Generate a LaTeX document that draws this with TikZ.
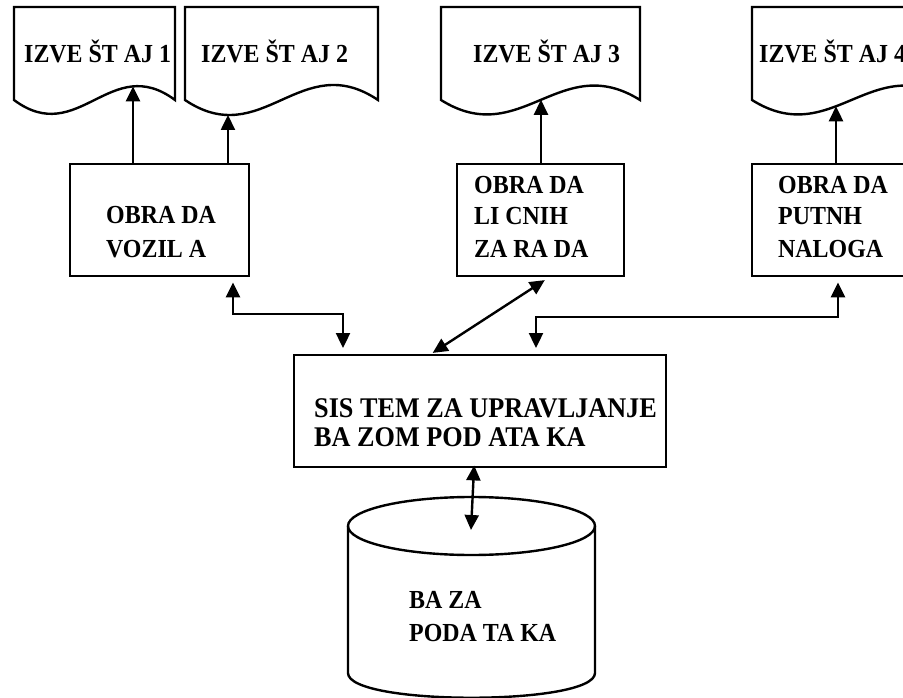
\documentclass[tikz,border=0pt]{standalone}
\usepackage{fontspec}
\setmainfont{Liberation Serif}[FakeStretch=0.92]
\usetikzlibrary{arrows.meta,intersections}
\begin{document}
\begin{tikzpicture}[x=1pt,y=-1pt,line width=2.4pt,
  >={Triangle[length=15pt,width=14pt]},
  lbl/.style={font=\bfseries\fontsize{26}{33}\selectfont, anchor=base west, align=left, inner sep=0pt},
  clbl/.style={font=\bfseries\fontsize{28.5}{29}\selectfont, anchor=base west, align=left, inner sep=0pt},
  box/.style={draw, anchor=north west, inner sep=0pt, minimum height=112pt},
  conn/.style={<->}]
\useasboundingbox (0,0) rectangle (903,698);
\clip (0,0) rectangle (903,698);
% documents
\draw[name path=d1] (14,7) -- (175,7) -- (175,100) .. controls (110.6,52) and (78.4,148) .. (14,100) -- cycle;
\draw[name path=d2] (185,7) -- (378,7) -- (378,100) .. controls (300.8,48) and (262.2,152) .. (185,100) -- cycle;
\draw[name path=d3] (441,7) -- (640,7) -- (640,100) .. controls (560.4,50) and (520.6,150) .. (441,100) -- cycle;
\draw[name path=d4] (752,7) -- (951,7) -- (951,100) .. controls (871.4,50) and (831.6,150) .. (752,100) -- cycle;
\node[lbl] (t1) at (23,63) {IZVE ŠT AJ 1};
\node[lbl] (t2) at (200,63) {IZVE ŠT AJ 2};
\node[lbl] (t3) at (472,63) {IZVE ŠT AJ 3};
\node[lbl] (t4) at (758,63) {IZVE ŠT AJ 4};
% process boxes
\node[box, minimum width=179pt] (b1) at (69,163) {};
\node[box, minimum width=167pt] (b2) at (456,163) {};
\node[box, minimum width=200pt] (b3) at (751,163) {};
\node[box, minimum width=372pt] (cb) at (293,354) {};
\node[lbl] (l1) at (105,257) {OBRA DA\\VOZIL A};
\node[lbl, font=\bfseries\fontsize{26}{32}\selectfont] (l2) at (473,257) {OBRA DA\\LI CNIH\\ZA RA DA};
\node[lbl, font=\bfseries\fontsize{26}{32}\selectfont] (l3) at (777,257) {OBRA DA\\PUTNH\\NALOGA};
\node[clbl] (lc) at (313,446) {SIS TEM ZA UPRAVLJANJE\\BA ZOM POD ATA KA};
% database cylinder
\draw (471.5,526) ellipse [x radius=123.5, y radius=29];
\draw (348,526) -- (348,673) .. controls (348,706) and (595,706) .. (595,673) -- (595,526);
\coordinate (dbt) at (471,530);
\node[lbl] (ld) at (408,641) {BA ZA\\PODA TA KA};
% arrows box -> document
\path[name path=v1] (133,70) -- (133,170);
\path[name path=v2] (228,70) -- (228,170);
\path[name path=v3] (541,70) -- (541,170);
\path[name path=v4] (836,70) -- (836,170);
\path[name intersections={of=d1 and v1, by=i1}];
\path[name intersections={of=d2 and v2, by=i2}];
\path[name intersections={of=d3 and v3, by=i3}];
\path[name intersections={of=d4 and v4, by=i4}];
\draw[->] (b1.north -| i1) -- (i1);
\draw[->] (b1.north -| i2) -- (i2);
\draw[->] (b2.north -| i3) -- (i3);
\draw[->] (b3.north -| i4) -- (i4);
% arrows boxes <-> central
\coordinate (p1) at (233,314); \coordinate (q1) at (343,314);
\draw[conn, shorten <=5pt, shorten >=6pt] (b1.south -| p1) -- (p1) -- (q1) -- (q1 |- cb.north);
\coordinate (p2) at (549,0); \coordinate (q2) at (431,0);
\draw[conn, shorten <=5pt, shorten >=2pt] (b2.south -| p2) -- (cb.north -| q2);
\coordinate (p3) at (838,317); \coordinate (q3) at (536,317);
\draw[conn, shorten <=5pt, shorten >=6pt] (b3.south -| p3) -- (p3) -- (q3) -- (q3 |- cb.north);
\coordinate (p4) at (474,0);
\draw[conn, shorten <=-3pt] (cb.south -| p4) -- (dbt);
\end{tikzpicture}
\end{document}
